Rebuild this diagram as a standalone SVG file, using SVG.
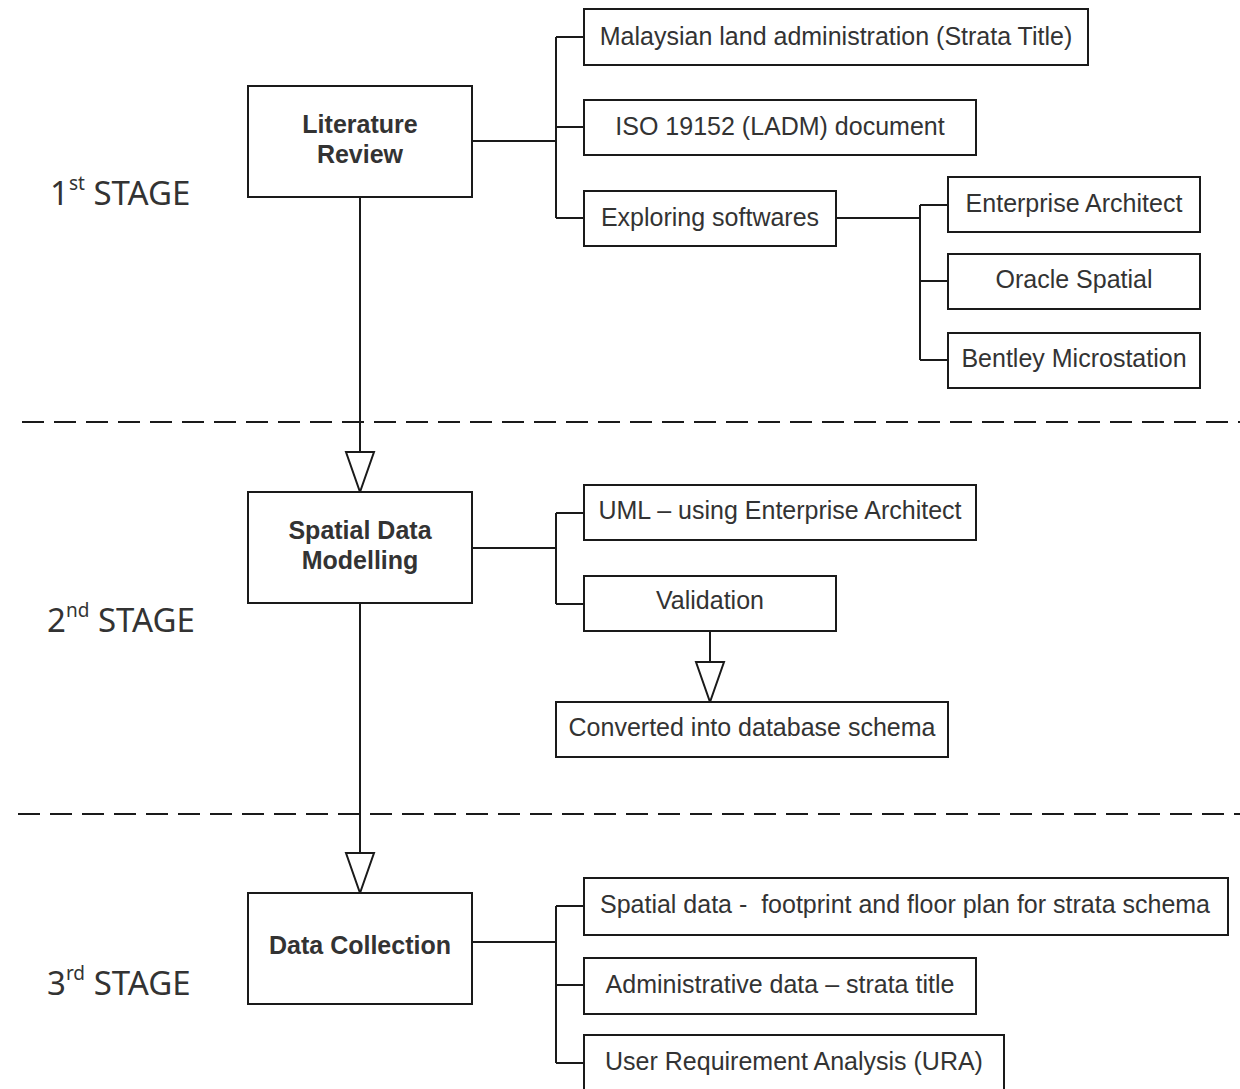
<svg xmlns="http://www.w3.org/2000/svg" width="1240" height="1089" viewBox="0 0 1240 1089">
<style>
.box{fill:#fff;stroke:#1a1a1a;stroke-width:2}
.ln{fill:none;stroke:#1a1a1a;stroke-width:2}
.dash{fill:none;stroke:#1a1a1a;stroke-width:2;stroke-dasharray:22 10}
.tri{fill:#fff;stroke:#1a1a1a;stroke-width:2}
.t{font-family:"Liberation Sans",Arial,sans-serif;font-size:25px;fill:#333;text-anchor:middle;white-space:pre}
.b{font-weight:bold}
.st{font-family:"Noto Sans","Open Sans",sans-serif;font-size:33px;fill:#333}
.sup{font-size:19px}
</style>
<rect width="1240" height="1089" fill="#fff"/>
<g id="stages">
<text class="st" x="50" y="205">1<tspan class="sup" dy="-15">st</tspan><tspan dy="15"> STAGE</tspan></text>
<text class="st" x="47" y="632">2<tspan class="sup" dy="-15">nd</tspan><tspan dy="15"> STAGE</tspan></text>
<text class="st" x="47" y="995">3<tspan class="sup" dy="-15">rd</tspan><tspan dy="15"> STAGE</tspan></text>
</g>
<g id="dividers">
<line class="dash" x1="22" y1="422" x2="1240" y2="422"/>
<line class="dash" x1="18" y1="814" x2="1240" y2="814"/>
</g>
<g id="connectors">
<path class="ln" d="M360 197V452M360 603V853M710 631V662"/>
<polygon class="tri" points="346,452 374,452 360,492"/>
<polygon class="tri" points="346,853 374,853 360,893"/>
<polygon class="tri" points="696,662 724,662 710,702"/>
<path class="ln" d="M472 141H556M556 37V218M556 37H584M556 127H584M556 218H584"/>
<path class="ln" d="M836 218H920M920 205V360M920 205H948M920 281H948M920 360H948"/>
<path class="ln" d="M472 548H556M556 513V604M556 513H584M556 604H584"/>
<path class="ln" d="M472 942H556M556 906V1063M556 906H584M556 985H584M556 1063H584"/>
</g>
<g id="literature-review"><rect class="box" x="248" y="86" width="224" height="111"/><text class="t b" x="360" y="133">Literature</text><text class="t b" x="360" y="163">Review</text></g>
<g id="malaysian"><rect class="box" x="584" y="9" width="504" height="56"/><text class="t" x="836" y="45">Malaysian land administration (Strata Title)</text></g>
<g id="iso"><rect class="box" x="584" y="100" width="392" height="55"/><text class="t" x="780" y="135">ISO 19152 (LADM) document</text></g>
<g id="exploring"><rect class="box" x="584" y="191" width="252" height="55"/><text class="t" x="710" y="226">Exploring softwares</text></g>
<g id="enterprise"><rect class="box" x="948" y="177" width="252" height="55"/><text class="t" x="1074" y="212">Enterprise Architect</text></g>
<g id="oracle"><rect class="box" x="948" y="254" width="252" height="55"/><text class="t" x="1074" y="288">Oracle Spatial</text></g>
<g id="bentley"><rect class="box" x="948" y="333" width="252" height="55"/><text class="t" x="1074" y="367">Bentley Microstation</text></g>
<g id="spatial-modelling"><rect class="box" x="248" y="492" width="224" height="111"/><text class="t b" x="360" y="539">Spatial Data</text><text class="t b" x="360" y="569">Modelling</text></g>
<g id="uml"><rect class="box" x="584" y="485" width="392" height="55"/><text class="t" x="780" y="519">UML – using Enterprise Architect</text></g>
<g id="validation"><rect class="box" x="584" y="576" width="252" height="55"/><text class="t" x="710" y="609">Validation</text></g>
<g id="converted"><rect class="box" x="556" y="702" width="392" height="55"/><text class="t" x="752" y="736">Converted into database schema</text></g>
<g id="data-collection"><rect class="box" x="248" y="893" width="224" height="111"/><text class="t b" x="360" y="954">Data Collection</text></g>
<g id="spatial-data"><rect class="box" x="584" y="878" width="644" height="57"/><text class="t" x="905" y="913">Spatial data -  footprint and floor plan for strata schema</text></g>
<g id="administrative"><rect class="box" x="584" y="958" width="392" height="56"/><text class="t" x="780" y="993">Administrative data – strata title</text></g>
<g id="ura"><rect class="box" x="584" y="1035" width="420" height="70"/><text class="t" x="794" y="1070">User Requirement Analysis (URA)</text></g>
</svg>
